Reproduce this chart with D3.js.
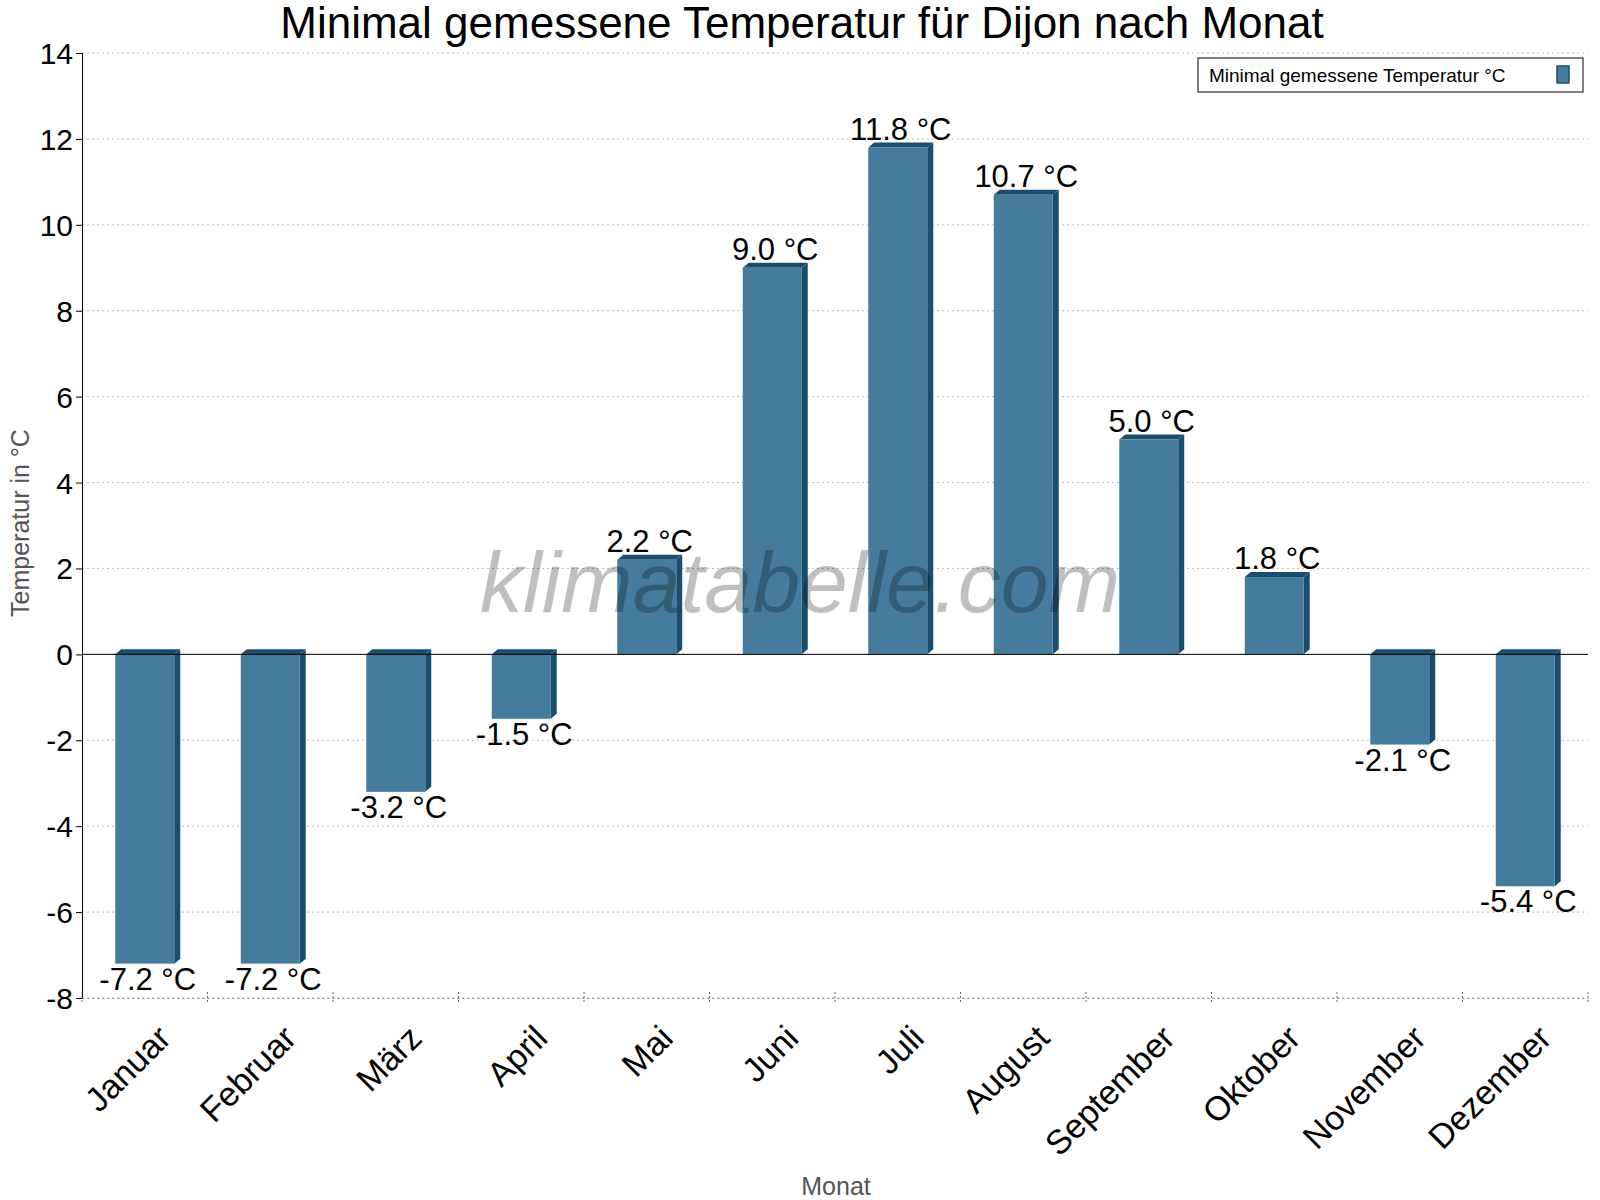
<!DOCTYPE html>
<html>
<head>
<meta charset="utf-8">
<script src="https://cdn.jsdelivr.net/npm/d3@7"></script>
<style>
  body { margin: 0; background: #fff; }
  text { font-family: Arial, "Liberation Sans", sans-serif; }
</style>
</head>
<body>
<script>
// chart data
var months = ["Januar", "Februar", "März", "April", "Mai", "Juni", "Juli", "August", "September", "Oktober", "November", "Dezember"];
var minTemps = [-7.2, -7.2, -3.2, -1.5, 2.2, 9.0, 11.8, 10.7, 5.0, 1.8, -2.1, -5.4];
var yTicks = [-8, -6, -4, -2, 0, 2, 4, 6, 8, 10, 12, 14];

window.onload = drawChart();

function drawChart(){
    var width = 1600, height = 1200;
    var left = 82, right = 1588, top = 53, bottom = 998;

    var svg = d3.select("body").append("svg")
        .attr("width", width)
        .attr("height", height);

    var x = d3.scaleBand().domain(months).range([left, right]);
    var y = d3.scaleLinear().domain([-8, 14]).range([bottom, top]);

    //gridlines
    svg.append("g").selectAll("line").data(yTicks).enter().append("line")
        .attr("x1", left).attr("x2", right)
        .attr("y1", d => y(d)).attr("y2", d => y(d))
        .attr("stroke", "#bbb").attr("stroke-dasharray", "2,3");

    //bars with a small 3d edge
    var bw = x.bandwidth() * 0.47, d3x = 6, d3y = 5;
    var bars = svg.append("g").selectAll("g").data(minTemps).enter().append("g");
    bars.each(function(v, i){
        var g = d3.select(this);
        var x0 = x(months[i]) + (x.bandwidth() - bw) / 2;
        var yt = y(Math.max(v, 0)), yb = y(Math.min(v, 0));
        g.append("path")
            .attr("d", "M" + x0 + "," + yt + "L" + (x0 + d3x) + "," + (yt - d3y) + "L" + (x0 + bw + d3x) + "," + (yt - d3y) + "L" + (x0 + bw) + "," + yt + "Z")
            .attr("fill", "#1b4d6e");
        g.append("path")
            .attr("d", "M" + (x0 + bw) + "," + yt + "L" + (x0 + bw + d3x) + "," + (yt - d3y) + "L" + (x0 + bw + d3x) + "," + (yb - d3y) + "L" + (x0 + bw) + "," + yb + "Z")
            .attr("fill", "#1b4d6e");
        g.append("rect")
            .attr("x", x0).attr("y", yt)
            .attr("width", bw).attr("height", yb - yt)
            .attr("fill", "#457b9d");
    });

    //zero line
    svg.append("line")
        .attr("x1", left).attr("x2", right)
        .attr("y1", y(0)).attr("y2", y(0))
        .attr("stroke", "#000");

    //watermark over bars
    svg.append("text")
        .attr("x", 800).attr("y", 612)
        .attr("text-anchor", "middle")
        .attr("font-size", 86).attr("font-style", "italic")
        .attr("fill", "#000").attr("fill-opacity", 0.25)
        .text("klimatabelle.com");

    //value labels
    svg.append("g").selectAll("text").data(minTemps).enter().append("text")
        .attr("x", (v, i) => x(months[i]) + x.bandwidth() / 2 + 3)
        .attr("y", v => v >= 0 ? y(v) - 8 : y(v) + 26)
        .attr("text-anchor", "middle")
        .attr("font-size", 31)
        .text(v => v.toFixed(1) + " °C");

    //y axis
    var yAxis = svg.append("g")
        .attr("transform", "translate(" + left + ",0)")
        .call(d3.axisLeft(y).tickValues(yTicks).tickSize(6).tickFormat(d => String(d)));
    yAxis.selectAll("text").attr("font-size", 30).attr("fill", "#000").attr("dy", "0.35em");
    yAxis.select(".domain").attr("stroke", "#000");

    //x axis
    var xAxis = svg.append("g")
        .attr("transform", "translate(0," + bottom + ")")
        .call(d3.axisBottom(x).tickSize(0));
    xAxis.select(".domain").attr("stroke", "#888").attr("stroke-dasharray", "2,3");
    xAxis.selectAll("text")
        .attr("font-size", 34).attr("fill", "#000")
        .attr("text-anchor", "end")
        .attr("dy", 0)
        .attr("transform", "translate(26,40) rotate(-45)");
    svg.append("g").selectAll("line").data(months.concat(["end"])).enter().append("line")
        .attr("x1", (d, i) => left + i * x.step()).attr("x2", (d, i) => left + i * x.step())
        .attr("y1", bottom - 6).attr("y2", bottom + 6)
        .attr("stroke", "#666").attr("stroke-dasharray", "2,2");

    //titles
    svg.append("text").attr("x", 802).attr("y", 38)
        .attr("text-anchor", "middle").attr("font-size", 44)
        .text("Minimal gemessene Temperatur für Dijon nach Monat");
    svg.append("text").attr("x", 836).attr("y", 1195)
        .attr("text-anchor", "middle").attr("font-size", 25).attr("fill", "#555")
        .text("Monat");
    svg.append("text")
        .attr("transform", "translate(29,523) rotate(-90)")
        .attr("text-anchor", "middle").attr("font-size", 25).attr("fill", "#555")
        .text("Temperatur in °C");

    //legend
    var lg = svg.append("g");
    lg.append("rect").attr("x", 1198).attr("y", 58).attr("width", 385).attr("height", 34)
        .attr("fill", "#fff").attr("stroke", "#000");
    lg.append("text").attr("x", 1209).attr("y", 82).attr("font-size", 19)
        .text("Minimal gemessene Temperatur °C");
    lg.append("rect").attr("x", 1557).attr("y", 66).attr("width", 12).attr("height", 17)
        .attr("fill", "#457b9d").attr("stroke", "#1b4d6e").attr("stroke-width", 1.5);
}
</script>
</body>
</html>
